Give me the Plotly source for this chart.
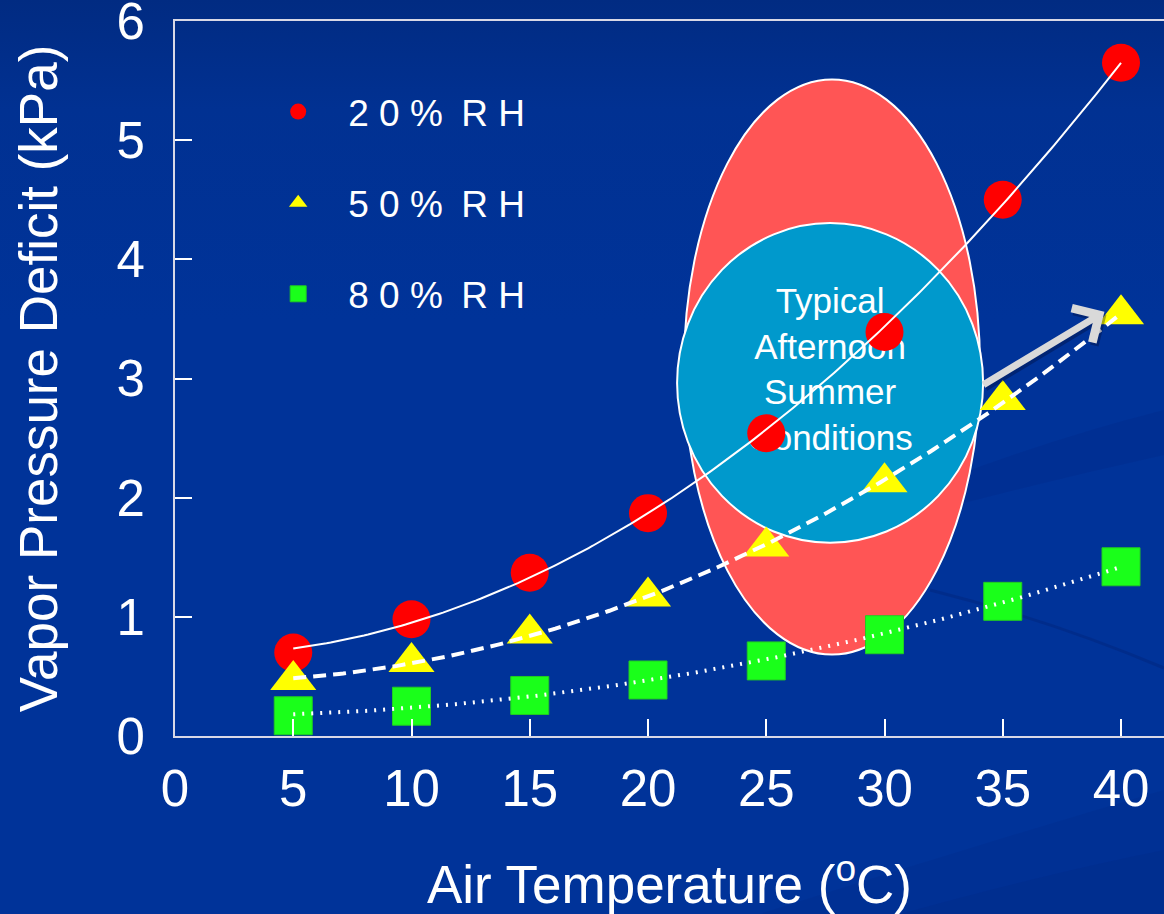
import base64
import numpy as np
import plotly.graph_objects as go

# Vapour pressure deficit (kPa) against air temperature (°C) at three humidities
temps = [5, 10, 15, 20, 25, 30, 35, 40]
vpd_rh20 = [0.70, 0.98, 1.37, 1.87, 2.54, 3.39, 4.50, 5.65]
vpd_rh50 = [0.47, 0.62, 0.86, 1.17, 1.59, 2.13, 2.82, 3.54]
vpd_rh80 = [0.17, 0.25, 0.34, 0.47, 0.63, 0.85, 1.13, 1.42]
series_names = ["20% RH", "50% RH", "80% RH"]
x_ticks = [0, 5, 10, 15, 20, 25, 30, 35, 40]
y_ticks = [0, 1, 2, 3, 4, 5, 6]
callout_lines = ["Typical", "Afternoon", "Summer", "Conditions"]

W, H = 1164, 914
M_L, M_R, M_T, M_B = 175, 0, 21, 178
PLOT_W, PLOT_H = W - M_L - M_R, H - M_T - M_B
PX_PER_DEG = 23.65

FONT = "Liberation Sans, Arial, sans-serif"
WHITE = "#FFFFFF"
AXIS = "#D8D8E6"


def spaced(label):
    # widen the legend labels: a space between glyphs, an en space between words
    return "\u2002".join(" ".join(word) for word in label.split(" "))


def trend(values):
    # second-order polynomial trendline through a series
    coef = np.polyfit(temps, values, 2)
    xs = np.linspace(temps[0], temps[-1], 200)
    return xs, np.polyval(coef, xs)


styles = [
    dict(symbol="circle", color="#FF0000", size=38, line=dict(width=0)),
    dict(symbol="triangle-up", color="#FFFF00", size=40, line=dict(width=0)),
    dict(symbol="square", color="#1AFF1A", size=38, line=dict(width=1, color="#22CC22")),
]
trend_lines = [
    dict(color=WHITE, width=2),
    dict(color=WHITE, width=4, dash="13px,7px"),
    dict(color=WHITE, width=4, dash="2px,7px"),
]
all_series = [vpd_rh20, vpd_rh50, vpd_rh80]

fig = go.Figure()

# label inside the highlighted region (sits under the data marks)
fig.add_trace(go.Scatter(
    x=[27.7], y=[3.05], mode="text",
    text=["<br>".join(callout_lines)],
    textposition="middle center",
    textfont=dict(family=FONT, size=35, color=WHITE),
    hoverinfo="skip", showlegend=False,
))

for name, vals, st in zip(series_names, all_series, styles):
    fig.add_trace(go.Scatter(
        x=temps, y=vals, mode="markers", name=spaced(name),
        legendgroup=name, marker=st, cliponaxis=False,
    ))

for name, vals, ln in zip(series_names, all_series, trend_lines):
    xs, ys = trend(vals)
    fig.add_trace(go.Scatter(
        x=xs, y=ys, mode="lines", line=ln, legendgroup=name,
        showlegend=False, hoverinfo="skip",
    ))

# highlighted conditions: red ellipse with a blue disc over it
fig.add_shape(type="circle", xref="x", yref="y", x0=21.52, x1=34.04, y0=0.683, y1=5.51,
              fillcolor="#FF5555", line=dict(color=WHITE, width=2), layer="below")
fig.add_shape(type="circle", xref="x", yref="y", x0=21.23, x1=34.17, y0=1.622, y1=4.304,
              fillcolor="#0099CC", line=dict(color=WHITE, width=2), layer="below")

# arrow pointing out toward the hottest condition (soft shadow first)
for shift, col in [((2, -3), "rgba(0,10,50,0.35)"), ((0, 0), "#D9D9D9")]:
    fig.add_annotation(x=39.3, y=3.56, ax=34.12, ay=2.94, xref="x", yref="y",
                       axref="x", ayref="y", text="", showarrow=True, arrowhead=4,
                       arrowsize=1.1, arrowwidth=7, arrowcolor=col, standoff=0,
                       xshift=shift[0], yshift=shift[1])

# slide-style background: dark gradient with faint swooshes
svg = f"""<svg xmlns='http://www.w3.org/2000/svg' width='{W}' height='{H}' viewBox='0 0 {W} {H}' preserveAspectRatio='none'>
<defs><linearGradient id='g' x1='0' y1='0' x2='0' y2='1'>
<stop offset='0' stop-color='#012B82'/><stop offset='0.12' stop-color='#013192'/>
<stop offset='0.35' stop-color='#003399'/><stop offset='1' stop-color='#003399'/></linearGradient></defs>
<rect width='{W}' height='{H}' fill='url(#g)'/>
<path d='M 760 560 Q 960 462 1164 410 L 1164 455 Q 960 500 760 560 Z' fill='#001E6E' fill-opacity='0.14'/>
<path d='M 930 590 Q 1050 620 1164 668' stroke='#001E6E' stroke-opacity='0.3' stroke-width='3' fill='none'/>
<path d='M 760 914 Q 960 850 1164 790 L 1164 914 Z' fill='#001E6E' fill-opacity='0.1'/>
<path d='M 900 914 Q 1040 875 1164 850 L 1164 914 Z' fill='#001E6E' fill-opacity='0.1'/>
</svg>"""
fig.add_layout_image(
    source="data:image/svg+xml;base64," + base64.b64encode(svg.encode()).decode(),
    xref="paper", yref="paper", x=-M_L / PLOT_W, y=1 + M_T / PLOT_H,
    sizex=W / PLOT_W, sizey=H / PLOT_H, xanchor="left", yanchor="top",
    sizing="stretch", layer="below",
)

fig.update_layout(
    width=W, height=H,
    margin=dict(l=M_L, r=M_R, t=M_T, b=M_B, pad=0),
    paper_bgcolor="#003399", plot_bgcolor="rgba(0,0,0,0)",
    font=dict(family=FONT, color=WHITE),
    showlegend=True,
    legend=dict(
        x=0.074, y=0.916, xanchor="left", yanchor="top",
        bgcolor="rgba(0,0,0,0)", borderwidth=0,
        font=dict(family=FONT, size=37, color=WHITE),
        traceorder="grouped", tracegroupgap=40, itemwidth=90,
    ),
    xaxis=dict(
        range=[0, PLOT_W / PX_PER_DEG], tickvals=x_ticks, ticktext=[str(v) for v in x_ticks],
        showgrid=False, zeroline=False, showline=True, linecolor=AXIS, linewidth=2,
        mirror=True, ticks="inside", ticklen=17, tickwidth=2, tickcolor=WHITE,
        tickfont=dict(family=FONT, size=51, color=WHITE), ticklabelstandoff=7,
        ticklabeloverflow="allow",
        title=dict(text="Air Temperature (<sup>o</sup>C)",
                   font=dict(family=FONT, size=53, color=WHITE), standoff=52),
        automargin=False, fixedrange=True,
    ),
    yaxis=dict(
        range=[0, 6], tickvals=y_ticks, ticktext=[str(v) for v in y_ticks],
        showgrid=False, zeroline=False, showline=True, linecolor=AXIS, linewidth=2,
        ticks="inside", ticklen=17, tickwidth=2, tickcolor=WHITE,
        tickfont=dict(family=FONT, size=51, color=WHITE), ticklabelstandoff=18,
        ticklabeloverflow="allow",
        title=dict(text="Vapor Pressure Deficit (kPa)",
                   font=dict(family=FONT, size=53, color=WHITE), standoff=42),
        automargin=False, fixedrange=True,
    ),
)

fig.write_html("out.html")
